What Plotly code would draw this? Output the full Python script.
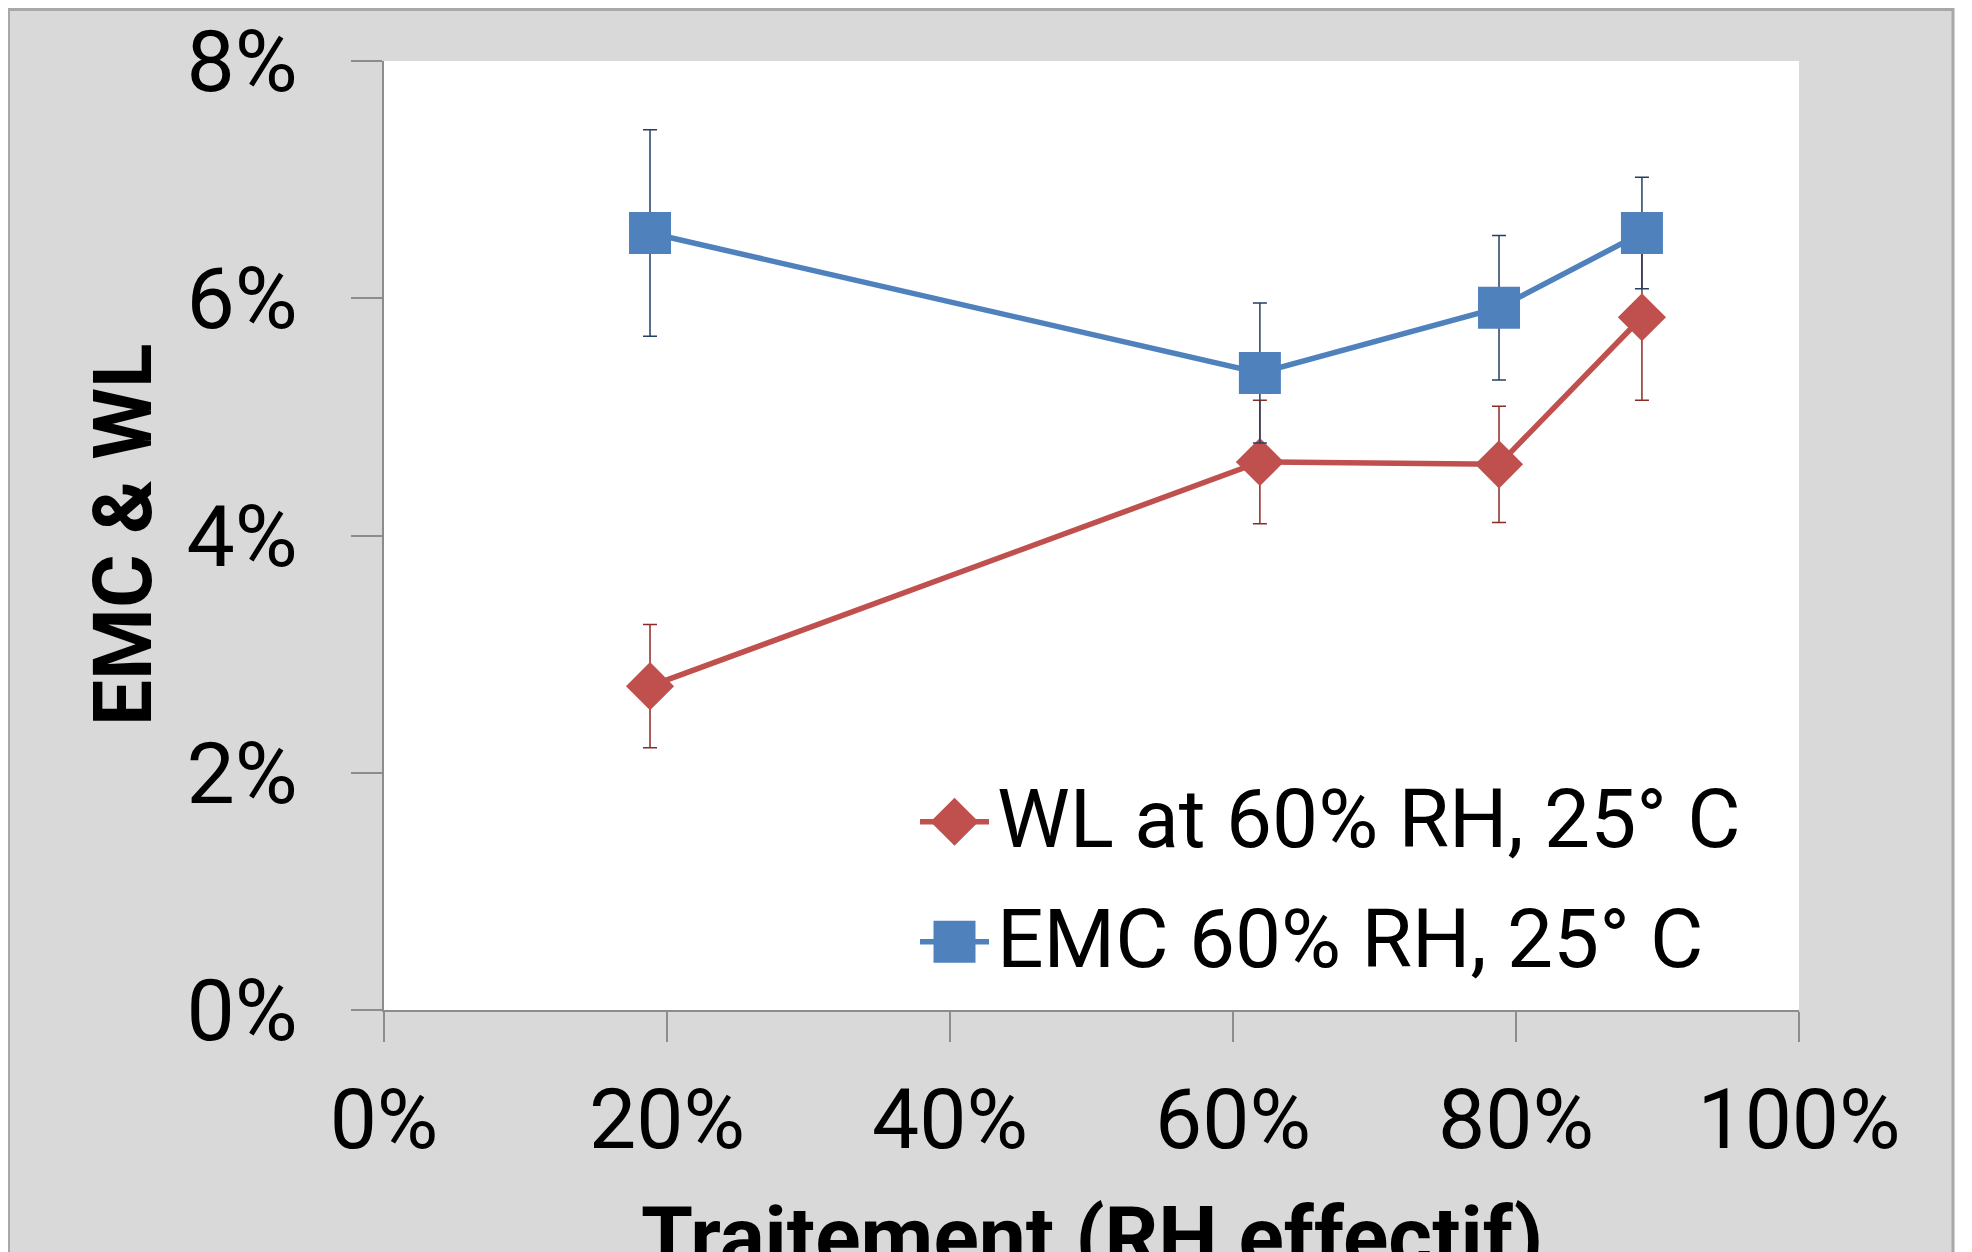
import plotly.graph_objects as go

# ---------------- data ----------------
rh_effectif = [18.8, 61.9, 78.8, 88.9]          # x, % RH effectif
wl_values = [2.73, 4.62, 4.60, 5.84]            # WL at 60% RH, 25° C (%)
wl_errors = [0.52, 0.52, 0.49, 0.70]
emc_values = [6.55, 5.37, 5.92, 6.55]           # EMC 60% RH, 25° C (%)
emc_errors = [0.87, 0.59, 0.61, 0.47]

series_names = ["WL at 60% RH, 25° C", "EMC 60% RH, 25° C"]
x_ticks = [0, 20, 40, 60, 80, 100]
x_tick_labels = ["0%", "20%", "40%", "60%", "80%", "100%"]
y_ticks = [0, 2, 4, 6, 8]
y_tick_labels = ["0%", "2%", "4%", "6%", "8%"]
x_title = "Traitement (RH effectif)"
y_title = "EMC & WL"

# ---------------- style ----------------
OFF = 8  # page offset of the figure inside the browser window
W, H = 1972, 1252
L = 384 - OFF
T = 61 - OFF
R = W - (1799 - OFF)
B = H - (1010 - OFF)
PW, PH = W - L - R, H - T - B
RED, BLUE = "#c0504d", "#4f81bd"
RED_ERR, BLUE_ERR = "#8c2a28", "#243f66"
GRAY_BG = "#d9d9d9"
AXIS_GRAY = "#8c8c8c"
FONT = "Roboto"


def px_x(px):
    """window pixel -> paper coordinate"""
    return (px - OFF - L) / PW


def px_y(py):
    return (H - B - (py - OFF)) / PH


fig = go.Figure()

fig.add_trace(go.Scatter(
    x=rh_effectif, y=wl_values, mode="lines+markers", name=series_names[0],
    line=dict(color=RED, width=5.5),
    marker=dict(symbol="diamond", size=37, color=RED, opacity=1),
    error_y=dict(type="data", array=wl_errors, visible=True,
                 color=RED_ERR, thickness=1.5, width=7),
    showlegend=False,
))
fig.add_trace(go.Scatter(
    x=rh_effectif, y=emc_values, mode="lines+markers", name=series_names[1],
    line=dict(color=BLUE, width=5.5),
    marker=dict(symbol="square", size=42, color=BLUE, opacity=1),
    error_y=dict(type="data", array=emc_errors, visible=True,
                 color=BLUE_ERR, thickness=1.5, width=7),
    showlegend=False,
))

# ---------------- custom legend (on an overlay axis 0..1) ----------------
legend_rows_py = [821.7, 941.7]
legend_key_px = (920, 954.5, 989)
legend_text_px = 995
legend_styles = [(RED, "diamond", 37), (BLUE, "square", 42)]
for name, row_py, (col, sym, sz) in zip(series_names, legend_rows_py, legend_styles):
    yy = px_y(row_py)
    fig.add_trace(go.Scatter(
        x=[px_x(legend_key_px[0]), px_x(legend_key_px[2])],
        y=[yy, yy], mode="lines",
        line=dict(color=col, width=5.5),
        xaxis="x2", yaxis="y2", showlegend=False, hoverinfo="skip",
    ))
    fig.add_trace(go.Scatter(
        x=[px_x(legend_key_px[1])], y=[yy], mode="markers",
        marker=dict(symbol=sym, size=sz, color=col, opacity=1, line=dict(width=0)),
        xaxis="x2", yaxis="y2", showlegend=False, hoverinfo="skip",
    ))
    fig.add_annotation(
        x=px_x(legend_text_px), y=px_y(row_py - 3), xref="paper", yref="paper",
        text=name, showarrow=False, xanchor="left", yanchor="middle",
        font=dict(family=FONT, size=82, color="black"),
    )

# axis titles
fig.add_annotation(
    x=px_x(123), y=px_y(535), xref="paper", yref="paper", text="<b>%s</b>" % y_title,
    textangle=-90, showarrow=False, xanchor="center", yanchor="middle",
    font=dict(family=FONT, size=82, color="black"),
)
fig.add_annotation(
    x=0.5, y=px_y(1186), xref="paper", yref="paper", text="<b>%s</b>" % x_title,
    showarrow=False, xanchor="center", yanchor="top",
    font=dict(family=FONT, size=84, color="black"),
)

# frame: white strip at the right, dark band at top, thin edge lines
shapes = [
    dict(type="line", xref="paper", yref="paper", x0=px_x(9), x1=px_x(9),
         y0=px_y(H + 20), y1=px_y(0), line=dict(color="#a8a8a8", width=2), layer="below"),
    dict(type="rect", xref="paper", yref="paper", x0=px_x(1954), x1=px_x(W + 20),
         y0=px_y(H + 20), y1=px_y(-10), fillcolor="white", line=dict(width=0), layer="below"),
    dict(type="line", xref="paper", yref="paper", x0=px_x(1953), x1=px_x(1953),
         y0=px_y(H + 20), y1=px_y(0), line=dict(color="#a8a8a8", width=3), layer="below"),
    dict(type="rect", xref="paper", yref="paper", x0=px_x(0), x1=px_x(1954),
         y0=px_y(11), y1=px_y(-10), fillcolor="#a8a8a8", line=dict(width=0), layer="below"),
]

fig.update_layout(
    width=W, height=H,
    margin=dict(l=L, r=R, t=T, b=B, autoexpand=False),
    paper_bgcolor=GRAY_BG, plot_bgcolor="white",
    shapes=shapes,
    xaxis=dict(range=[0, 100], tickvals=x_ticks, ticktext=x_tick_labels,
               showgrid=False, zeroline=False, showline=True, linecolor=AXIS_GRAY,
               linewidth=2, ticks="outside", ticklen=30, tickwidth=1.5, tickcolor=AXIS_GRAY,
               ticklabelstandoff=5,
               tickfont=dict(family=FONT, size=84, color="black")),
    yaxis=dict(range=[0, 8], tickvals=y_ticks, ticktext=y_tick_labels,
               showgrid=False, zeroline=False, showline=True, linecolor=AXIS_GRAY,
               linewidth=2, ticks="outside", ticklen=31, tickwidth=1.5, tickcolor=AXIS_GRAY,
               ticklabelstandoff=36,
               tickfont=dict(family=FONT, size=86, color="black")),
    xaxis2=dict(overlaying="x", range=[0, 1], visible=False, fixedrange=True),
    yaxis2=dict(overlaying="y", range=[0, 1], visible=False, fixedrange=True),
    showlegend=False,
)

fig.write_html("out.html")
